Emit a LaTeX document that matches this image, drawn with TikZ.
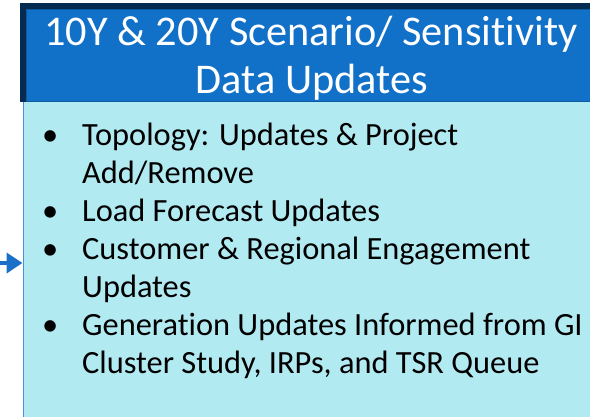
\documentclass[tikz,border=0pt]{standalone}
\usepackage{fontspec}
\setmainfont{Carlito}[Ligatures=NoCommon]
\usetikzlibrary{arrows.meta}
\definecolor{headblue}{HTML}{1170C7}
\definecolor{headnavy}{HTML}{052B50}
\definecolor{bodycyan}{HTML}{B2EAF2}
\definecolor{bodyline}{HTML}{4A90D9}
\definecolor{arrowblue}{HTML}{1A6FC8}
\newcommand{\bodysize}{\fontsize{32.4}{38}\selectfont}
\tikzset{
    head box/.style={fill=headblue,draw=headblue!80!black,line width=1pt,
        anchor=north west,minimum width=574pt,minimum height=92pt,inner sep=0pt},
    body box/.style={fill=bodycyan,draw=bodyline,line width=1pt,
        anchor=north west,minimum width=578pt,minimum height=324pt,inner sep=0pt},
    title text/.style={text=white,anchor=base,inner sep=0pt,
        font=\fontsize{42.3}{48}\selectfont},
    item text/.style={anchor=base west,align=left,inner sep=0pt,font=\bodysize},
    item dot/.style={anchor=base west,inner sep=0pt,font=\bodysize},
    arrow style in/.style={draw=arrowblue,line width=4pt,
        -{Triangle[length=16pt,width=20pt]}},
}

\begin{document}
\begin{tikzpicture}[x=1pt,y=-1pt]
\useasboundingbox (0,0) rectangle (590,416);
% les boites
\node[body box] (body) at (22.5,101) {};
\node[head box] (head) at (26,9) {};
\fill[headnavy] ([xshift=-6pt,yshift=6pt]head.north west) rectangle ([xshift=20pt]head.north east);
\fill[headnavy] ([xshift=-6pt]head.south west) rectangle (head.north west);
\node[title text] (title) at (311,45) {10Y \& 20Y Scenario/ Sensitivity};
\node[title text] (subtitle) at (312,93) {Data Updates};
% la liste
\node[item dot] (dot1) at (42,145) {\textbullet};
\node[item text] (item1) at (82,183) {Topology: Updates \& Project\\Add/Remove};
\node[item dot] (dot2) at (42,221) {\textbullet};
\node[item text] (item2) at (82,221) {Load Forecast Updates};
\node[item dot] (dot3) at (42,259) {\textbullet};
\node[item text] (item3) at (82,297) {Customer \& Regional Engagement\\Updates};
\node[item dot] (dot4) at (42,335) {\textbullet};
\node[item text] (item4) at (82,373) {Generation Updates Informed from GI\\Cluster Study, IRPs, and TSR Queue};
% la fleche
\coordinate (feed) at (0,263);
\draw[arrow style in] (feed) -- (feed -| body.west);
\end{tikzpicture}
\end{document}
